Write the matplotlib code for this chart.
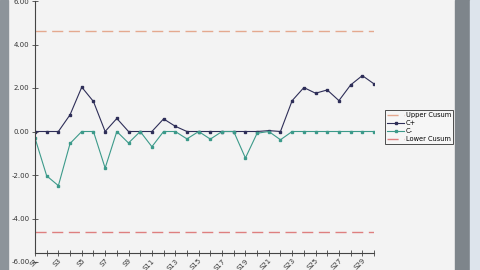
import numpy as np
import matplotlib
matplotlib.use("Agg")
import matplotlib.pyplot as plt
from matplotlib.patches import Rectangle

# --- data ---
samples = [f"S{i}" for i in range(1, 31)]
c_plus = [0, 0, 0, 0.77, 2.04, 1.38, 0, 0.60, 0, 0, 0, 0.58, 0.24, 0, 0,
          0, 0, 0, 0, 0, 0.04, 0, 1.42, 2.02, 1.76, 1.91, 1.42, 2.14, 2.57, 2.19]
c_minus = [-0.30, -2.04, -2.49, -0.55, 0, 0, -1.68, 0, -0.53, 0, -0.70, 0, 0, -0.34, 0,
           -0.35, 0, 0, -1.22, -0.08, 0, -0.38, 0, 0, 0, 0, 0, 0, 0, 0]
upper_cusum = 4.6
lower_cusum = -4.6
y_ticks = [-6, -4, -2, 0, 2, 4, 6]

bg = "#f3f3f3"
fig = plt.figure(figsize=(4.8, 2.7), dpi=100, facecolor=bg)

# window chrome from the screenshot (left border, scrollbar)
fig.patches.append(Rectangle((0, 0), 8 / 480, 1, transform=fig.transFigure,
                             color="#8d949a", zorder=0))
fig.patches.append(Rectangle((455 / 480, 0), 15 / 480, 1, transform=fig.transFigure,
                             color="#7e858b", zorder=0))
fig.patches.append(Rectangle((470 / 480, 0), 10 / 480, 1, transform=fig.transFigure,
                             color="#dde4ec", zorder=0))

ax = fig.add_axes([35 / 480, 8 / 270, (374 - 35) / 480, (262 - 1) / 270])
ax.set_facecolor(bg)

# spine placement first: set_position resets the tick objects
for s in ["top", "right"]:
    ax.spines[s].set_visible(False)
ax.spines["bottom"].set_position(("data", -5.57))
ax.spines["left"].set_bounds(-5.57, 6)
for s in ["left", "bottom"]:
    ax.spines[s].set_color("#444444")
    ax.spines[s].set_linewidth(0.8)

x = np.arange(len(samples))
ax.plot(x, [upper_cusum] * len(x), color="#e4a98f", lw=1, dashes=(8, 4), label="Upper Cusum")
ax.plot(x, c_plus, color="#2e2e58", lw=0.8, marker="s", ms=2, label="C+")
ax.plot(x, c_minus, color="#3c9a8a", lw=0.8, marker="s", ms=2, label="C-")
ax.plot(x, [lower_cusum] * len(x), color="#de7f7f", lw=1, dashes=(8, 4), label="Lower Cusum")

ax.set_xlim(0, len(x) - 1)
ax.set_ylim(-6, 6)
ax.set_yticks(y_ticks)
ax.set_yticklabels([f"{v:.2f}" for v in y_ticks], fontsize=5, color="#333333")
ax.set_xticks(x)
ax.set_xticklabels([s if i % 2 == 0 else "" for i, s in enumerate(samples)],
                   rotation=45, ha="right", rotation_mode="anchor", fontsize=5, color="#333333")
ax.tick_params(direction="inout", length=4, width=0.6, color="#444444")
ax.tick_params(axis="x", pad=1.5)
ax.tick_params(axis="y", pad=2)

leg = ax.legend(loc="upper left", bbox_to_anchor=(385 / 480, 1 - 110 / 270),
                bbox_transform=fig.transFigure, fontsize=4.8, frameon=True,
                fancybox=False, borderpad=0.3, labelspacing=0.3, handlelength=2.6,
                handletextpad=0.2, borderaxespad=0)
leg.get_frame().set_edgecolor("#222222")
leg.get_frame().set_linewidth(0.7)
leg.get_frame().set_facecolor("#f8f8f8")

fig.savefig("out.png", dpi=100, facecolor=bg)
